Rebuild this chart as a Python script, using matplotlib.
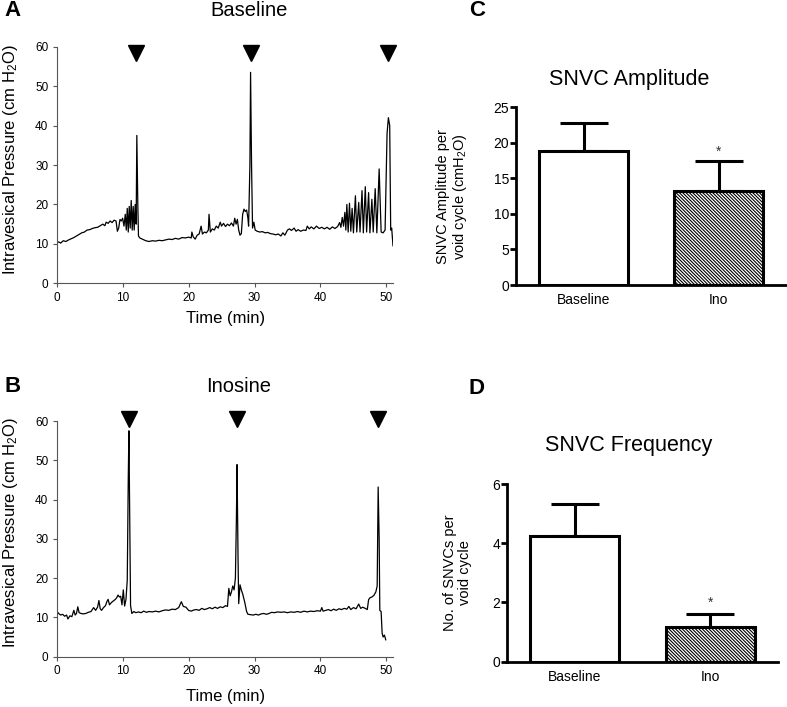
import numpy as np
import matplotlib
matplotlib.use('Agg')
import matplotlib.pyplot as plt

plt.rcParams['font.family'] = ['Liberation Sans', 'DejaVu Sans']
plt.rcParams['mathtext.fontset'] = 'custom'
plt.rcParams['mathtext.rm'] = 'Liberation Sans'
plt.rcParams['mathtext.it'] = 'Liberation Sans:italic'
plt.rcParams['hatch.linewidth'] = 0.8

# Panel A trace (time in min, pressure in cm H2O)
time_a = [0.0, 0.05, 0.3, 0.6, 1.0, 1.4, 1.8, 2.2, 2.6, 3.0, 3.4, 3.8, 4.2, 4.6, 5.0, 5.4,
          5.8, 6.2, 6.6, 7.0, 7.3, 7.5, 7.8, 8.1, 8.4, 8.7, 9.0, 9.2, 9.4, 9.6, 9.8, 10.0,
          10.2, 10.4, 10.55, 10.7, 10.85, 11.0, 11.15, 11.3, 11.45, 11.6, 11.75, 11.9, 12.05,
          12.15, 12.3, 12.4, 12.6, 13.0, 13.5, 14.0, 14.5, 15.0, 15.5, 16.0, 16.5, 17.0,
          17.5, 18.0, 18.5, 19.0, 19.5, 20.0, 20.4, 20.5, 20.7, 21.0, 21.3, 21.6, 21.9, 22.1,
          22.4, 22.7, 23.0, 23.1, 23.3, 23.6, 23.9, 24.2, 24.5, 24.8, 25.0, 25.3, 25.6, 25.9,
          26.2, 26.5, 26.8, 27.0, 27.2, 27.4, 27.6, 27.8, 28.0, 28.2, 28.4, 28.6, 28.8, 29.0,
          29.1, 29.3, 29.4, 29.55, 29.7, 29.9, 30.1, 30.4, 30.8, 31.2, 31.6, 32.0, 32.4, 32.8,
          33.2, 33.6, 34.0, 34.3, 34.6, 35.0, 35.3, 35.6, 36.0, 36.3, 36.6, 37.0, 37.4, 37.8,
          38.0, 38.3, 38.6, 39.0, 39.4, 39.8, 40.2, 40.6, 41.0, 41.4, 41.8, 42.2, 42.6, 42.9,
          43.1, 43.3, 43.5, 43.7, 43.85, 44.0, 44.2, 44.4, 44.6, 44.8, 45.0, 45.3, 45.5, 45.8,
          46.0, 46.3, 46.5, 46.8, 47.0, 47.3, 47.5, 47.8, 48.0, 48.3, 48.55, 48.9, 49.2, 49.5,
          49.8, 50.1, 50.3, 50.5, 50.65, 50.8, 51.0]
press_a = [5.0, 10.3, 10.5, 10.2, 10.8, 10.6, 11.0, 11.3, 11.6, 12.0, 12.4, 12.8, 13.0, 13.5, 13.6, 13.9,
           14.1, 14.2, 14.6, 15.0, 14.6, 15.5, 15.2, 15.8, 15.4, 16.0, 15.8, 13.2, 14.0, 16.2, 15.8, 16.5,
           14.5, 17.5, 13.5, 19.0, 13.0, 19.5, 14.0, 21.0, 13.5, 19.5, 13.5, 20.0, 15.0,
           37.5, 20.0, 12.0, 11.5, 11.2, 10.8, 10.6, 10.8, 10.7, 10.9, 10.8, 11.0, 11.2,
           11.1, 11.4, 11.2, 11.6, 11.5, 11.7, 11.5, 13.0, 11.8, 11.2, 12.2, 12.5, 14.5, 12.5,
           13.0, 12.8, 13.5, 17.5, 13.0, 13.8, 13.5, 14.5, 14.0, 15.5, 14.5, 15.2, 14.4, 15.0,
           14.6, 15.3, 14.5, 16.5, 15.0, 16.2, 13.5, 12.2, 12.6, 17.5, 18.8, 18.2, 18.6, 16.5,
           14.5, 30.0, 53.5, 30.0, 14.0, 15.5, 13.5, 13.2, 13.0, 13.1, 12.8, 12.9, 12.6, 12.5,
           12.3, 12.5, 12.0, 12.8, 12.2, 13.5, 13.8, 13.4, 14.0, 13.2, 13.6, 13.2, 13.5, 13.4,
           14.5, 13.8, 14.3, 13.8, 14.5, 13.9, 14.2, 13.8, 14.2, 13.7, 14.3, 13.9, 14.4, 15.4,
           14.2, 16.7, 14.5, 18.0, 13.5, 20.0, 13.0, 20.3, 13.2, 19.0, 12.8, 22.2, 13.0, 20.5,
           13.0, 23.5, 12.8, 24.5, 13.0, 23.0, 12.8, 21.3, 13.0, 24.0, 12.8, 29.0, 13.0, 12.8,
           13.5, 38.0, 42.0, 40.0, 13.5, 14.0, 9.5]

# Panel B trace
time_b = [0.0, 0.05, 0.3, 0.6, 0.9, 1.2, 1.5, 1.7, 2.0, 2.3, 2.6, 2.8, 3.0, 3.2, 3.4, 3.7,
          4.0, 4.4, 4.8, 5.2, 5.6, 5.9, 6.2, 6.4, 6.6, 6.8, 7.1, 7.4, 7.6, 7.8, 8.0, 8.3,
          8.6, 8.9, 9.1, 9.3, 9.5, 9.7, 9.9, 10.1, 10.3, 10.5, 10.7, 10.85, 10.95, 11.1, 11.2,
          11.4, 11.7, 12.0, 12.4, 12.8, 13.2, 13.6, 14.0, 14.5, 15.0, 15.5, 16.0, 16.5, 17.0,
          17.5, 18.0, 18.5, 18.9, 19.2, 19.6, 20.0, 20.4, 20.8, 21.2, 21.6, 22.0, 22.4, 22.8,
          23.2, 23.6, 24.0, 24.4, 24.8, 25.2, 25.6, 25.9, 26.1, 26.3, 26.5, 26.7, 26.9, 27.1,
          27.25, 27.35, 27.5, 27.6, 27.8, 28.0, 28.2, 28.5, 28.8, 29.0, 29.4, 29.8, 30.2, 30.6,
          31.0, 31.4, 31.8, 32.2, 32.6, 33.0, 33.5, 34.0, 34.5, 35.0, 35.5, 36.0, 36.5, 37.0,
          37.5, 38.0, 38.5, 39.0, 39.5, 40.0, 40.2, 40.4, 40.8, 41.2, 41.6, 42.0, 42.4, 42.8,
          43.2, 43.6, 44.0, 44.3, 44.6, 45.0, 45.4, 45.8, 46.1, 46.4, 46.8, 47.1, 47.3, 47.5,
          47.8, 48.1, 48.4, 48.6, 48.75, 48.9, 49.0, 49.2, 49.35, 49.5, 49.7, 49.9]
press_b = [4.2, 11.5, 11.0, 10.6, 10.8, 10.3, 10.6, 9.6, 10.4, 10.2, 11.8, 10.6, 11.0, 12.7, 11.2, 11.0,
           10.9, 11.0, 11.3, 11.5, 12.5, 11.8, 12.6, 14.3, 12.2, 11.8, 12.5, 13.0, 14.0, 14.6, 13.2, 13.8,
           14.2, 14.6, 15.0, 15.7, 15.2, 15.4, 13.2, 17.0, 12.9, 14.5, 19.5, 45.0, 57.5, 30.0, 13.0,
           11.0, 11.5, 11.2, 11.4, 11.2, 11.6, 11.3, 11.5, 11.4, 11.6, 11.4, 11.7, 11.9, 11.8,
           12.1, 12.0, 12.5, 14.0, 12.8, 12.6, 11.8, 11.6, 11.9, 12.0, 11.8, 12.3, 12.0, 12.2,
           12.5, 12.2, 12.6, 12.3, 12.7, 12.5, 13.0, 12.8, 17.4, 15.5, 16.5, 18.0, 17.0, 20.0,
           35.0, 48.9, 25.0, 13.5, 18.3, 17.0, 16.0, 14.0, 11.5, 10.8, 10.7, 10.6, 10.8, 10.6,
           10.9, 11.0, 10.8, 11.0, 11.3, 11.2, 11.4, 11.3, 11.4, 11.2, 11.4, 11.3, 11.5, 11.3,
           11.6, 11.4, 11.6, 11.5, 11.7, 11.6, 12.5, 11.6, 11.8, 12.0, 11.7, 12.1, 11.8, 12.2,
           12.0, 12.3, 12.1, 12.8, 12.0, 12.5, 12.2, 13.4, 12.3, 12.6, 12.3, 12.0, 14.5, 15.0,
           15.2, 15.6, 16.5, 18.0, 43.2, 30.0, 11.8, 11.5, 6.0, 5.0, 5.5, 4.3]

# void markers (arrowheads)
voids_a = [12.1, 29.5, 50.3]
voids_b = [11.0, 27.3, 48.7]

# bar panels
groups = ['Baseline', 'Ino']
amp_mean = [18.8, 13.25]
amp_sem = [3.95, 4.25]
freq_mean = [4.23, 1.16]
freq_sem = [1.09, 0.45]

W, H = 787, 707
fig = plt.figure(figsize=(W / 100, H / 100), dpi=100)


def box(l, t, r, b):
    return [l / W, 1 - b / H, (r - l) / W, (b - t) / H]


def trace_panel(rect, t, p, voids, vy, letter, ly, title, tx, ty, ylab_y, xlab_y):
    ax = fig.add_axes(rect)
    ax.plot(t, p, color='black', lw=0.9)
    ax.plot(voids, [vy] * len(voids), 'v', color='black', ms=11, clip_on=False)
    ax.set_xlim(0, 51)
    ax.set_ylim(0, 60)
    ax.set_xticks([0, 10, 20, 30, 40, 50])
    ax.set_yticks([0, 10, 20, 30, 40, 50, 60])
    for s in ['top', 'right']:
        ax.spines[s].set_visible(False)
    for s in ['left', 'bottom']:
        ax.spines[s].set_color('#555555')
        ax.spines[s].set_linewidth(0.8)
    ax.tick_params(direction='out', length=3, width=0.8, color='#555555',
                   labelsize=8.5, pad=3)
    fig.text(4 / W, 1 - ly / H, letter, fontsize=16, fontweight='bold', va='center')
    fig.text(tx / W, 1 - ty / H, title, fontsize=14.5, ha='center', va='center')
    fig.text(11 / W, 1 - ylab_y / H, 'Intravesical Pressure (cm H$_2$O)', fontsize=12,
             rotation=90, ha='center', va='center')
    fig.text(226 / W, 1 - xlab_y / H, 'Time (min)', fontsize=12, ha='center', va='center')
    return ax


trace_panel(box(56.7, 46.7, 393, 283.3), time_a, press_a, voids_a, 58.3,
            'A', 11, 'Baseline', 249, 10, 160, 319)
trace_panel(box(56.7, 421, 393, 656.7), time_b, press_b, voids_b, 60.5,
            'B', 386, 'Inosine', 239, 387, 533, 697)


def bar_panel(rect, mean, sem, ymax, yticks, star_y, letter, ly, title, ty, ylab, ylab_x):
    ax = fig.add_axes(rect)
    x = np.arange(len(groups))
    ax.bar(x, mean, width=0.66, color=['white', 'white'], edgecolor='black',
           linewidth=2.2, hatch=[None, '\\' * 10], zorder=2)
    ax.errorbar(x, mean, yerr=[[0, 0], sem], fmt='none', ecolor='black',
                elinewidth=2.2, capsize=17, capthick=2.2, zorder=1)
    ax.text(1, star_y, '*', ha='center', va='center', fontsize=10, color='#333333')
    ax.set_xlim(-0.5, 1.5)
    ax.set_ylim(0, ymax)
    ax.set_yticks(yticks)
    ax.set_xticks(x)
    ax.set_xticklabels(groups)
    for s in ['top', 'right']:
        ax.spines[s].set_visible(False)
    for s in ['left', 'bottom']:
        ax.spines[s].set_linewidth(2)
    ax.tick_params(axis='y', direction='out', length=4, width=2, labelsize=10, pad=1)
    ax.tick_params(axis='x', length=0, labelsize=10, pad=6)
    fig.text(477 / W, 1 - ly / H, letter, fontsize=16, fontweight='bold',
             ha='center', va='center')
    fig.text(629 / W, 1 - ty / H, title, fontsize=15.5, ha='center', va='center')
    ax.set_ylabel(ylab, fontsize=10.5, linespacing=1.05)
    ax.yaxis.set_label_coords((ylab_x - rect[0] * W) / (rect[2] * W), 0.5)
    return ax


bar_panel(box(516, 107.3, 786, 285), amp_mean, amp_sem, 25, [0, 5, 10, 15, 20, 25],
          18.7, 'C', 11, 'SNVC Amplitude', 80,
          'SNVC Amplitude per\nvoid cycle (cmH$_2$O)', 469)
bar_panel(box(507, 484, 778, 661.7), freq_mean, freq_sem, 6, [0, 2, 4, 6],
          2.0, 'D', 389, 'SNVC Frequency', 445,
          'No. of SNVCs per\nvoid cycle', 472)

fig.savefig('out.png', dpi=100)
